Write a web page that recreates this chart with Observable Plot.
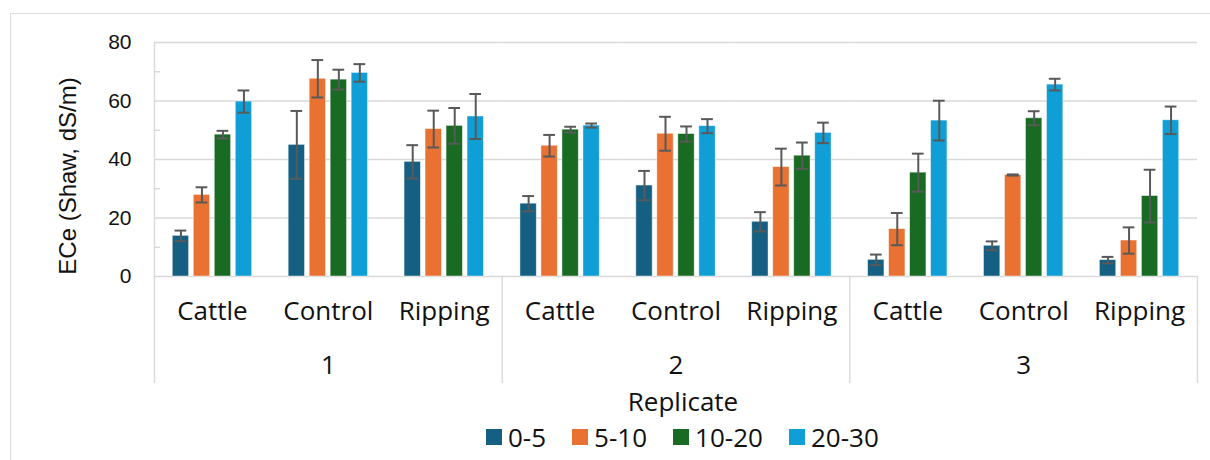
<!DOCTYPE html>
<html><head><meta charset="utf-8">
<script src="https://cdn.jsdelivr.net/npm/d3@7"></script>
<script src="https://cdn.jsdelivr.net/npm/@observablehq/plot@0.6"></script>
<style>
html,body{margin:0;padding:0;background:#fff;overflow:hidden;width:1210px;height:460px;}
#wrap{position:relative;width:1210px;height:460px;}
#border{position:absolute;left:10px;top:13px;width:1300px;height:600px;border-left:1.5px solid #dcdcdc;border-top:1.5px solid #dcdcdc;pointer-events:none;}
#chart{position:absolute;left:0;top:0;}
#xtitle{position:absolute;top:385px;left:683px;transform:translateX(-50%);font-family:"Open Sans",sans-serif;font-size:26px;line-height:32px;color:#111;white-space:nowrap;}
#legend{position:absolute;top:421px;left:486px;display:flex;gap:26px;font-family:"Open Sans",sans-serif;font-size:26px;line-height:32px;color:#111;white-space:nowrap;}
.item{display:flex;align-items:center;gap:6px;}
.sw{width:16px;height:16px;display:inline-block;}
</style></head>
<body><div id="wrap"><div id="chart"></div><div id="xtitle"></div><div id="legend"></div><div id="border"></div></div>
<script>
// ---- data ----
const replicates = ["1", "2", "3"];
const treatments = ["Cattle", "Control", "Ripping"];
const depths = ["0-5", "5-10", "10-20", "20-30"];
const depthColors = ["#156082", "#E97132", "#196B24", "#0F9ED5"];
const yTicks = [0, 20, 40, 60, 80];
const yMinorTicks = [10, 30, 50, 70];
const yTitle = "ECe (Shaw, dS/m)";
const xTitle = "Replicate";

// order: rep1 Cattle, Control, Ripping, rep2 ..., rep3 ...
const ece_0_5   = [13.9, 45.0, 39.2, 24.9, 31.1, 18.7, 5.7, 10.5, 5.6];
const ece_5_10  = [27.9, 67.6, 50.4, 44.7, 48.8, 37.4, 16.2, 34.7, 12.3];
const ece_10_20 = [48.5, 67.3, 51.5, 50.2, 48.7, 41.3, 35.5, 54.1, 27.5];
const ece_20_30 = [59.8, 69.6, 54.7, 51.6, 51.4, 49.1, 53.3, 65.6, 53.4];

const err_0_5   = [1.8, 11.6, 5.7, 2.6, 5.0, 3.3, 1.8, 1.5, 1.1];
const err_5_10  = [2.6, 6.4, 6.3, 3.7, 5.8, 6.3, 5.5, 0.2, 4.5];
const err_10_20 = [1.3, 3.4, 6.1, 1.0, 2.6, 4.5, 6.5, 2.4, 9.0];
const err_20_30 = [3.8, 3.0, 7.7, 0.7, 2.4, 3.5, 6.8, 2.0, 4.7];

// ---- table ----
const seriesValues = [ece_0_5, ece_5_10, ece_10_20, ece_20_30];
const seriesErrors = [err_0_5, err_5_10, err_10_20, err_20_30];
const groups = replicates.flatMap(r => treatments.map(t => ({rep: r, treatment: t, key: `${r}|${t}`})));
const rows = [];
depths.forEach((d, j) => groups.forEach((g, i) =>
  rows.push({...g, depth: d, value: seriesValues[j][i], err: seriesErrors[j][i]})));

// ---- layout / style ----
const W = 1210, H = 385, mT = 42, mB = 109, mL = 154, mR = 13;
const plotH = H - mT - mB;
const belowAxis = 106;
const gridColor = "#d9d9d9";
const ink = "#111";
const errColor = "#595959";
const catFont = "'Open Sans', sans-serif";
const numFont = "'Liberation Sans', Arial, sans-serif";

const sepMarks = [
  Plot.frame({fx: groups[0].key, anchor: "left", insetBottom: -belowAxis, stroke: gridColor, strokeWidth: 1.4}),
  ...replicates.slice(1).map(r => Plot.frame({fx: `${r}|${treatments[0]}`, anchor: "left", insetTop: plotH, insetBottom: -belowAxis, stroke: gridColor, strokeWidth: 1.4})),
  Plot.frame({fx: groups[groups.length - 1].key, anchor: "right", insetTop: plotH, insetBottom: -belowAxis, stroke: gridColor, strokeWidth: 1.4})
];

const chart = Plot.plot({
  width: W, height: H,
  marginTop: mT, marginBottom: mB, marginLeft: mL, marginRight: mR,
  style: {background: "transparent", fontFamily: numFont, color: ink, overflow: "visible"},
  fx: {domain: groups.map(g => g.key), padding: 0, round: false, axis: null},
  x: {domain: depths, paddingInner: 0.222, paddingOuter: 0.87, axis: null, round: false},
  y: {domain: [0, 80], axis: null},
  color: {domain: depths, range: depthColors},
  marks: [
    Plot.gridY(yTicks, {stroke: gridColor, strokeOpacity: 1, strokeWidth: 1.4}),
    ...sepMarks,
    Plot.axisY(yMinorTicks, {tickSize: -6, fill: "none", stroke: gridColor, strokeWidth: 1.4, label: null}),
    Plot.axisY(yTicks, {tickSize: 0, tickPadding: 23, fontSize: 21, fontFamily: numFont, fill: ink, label: null}),
    Plot.barY(rows, {fx: "key", x: "depth", y: "value", fill: "depth", stroke: "white", strokeOpacity: 0.55, strokeWidth: 0.8}),
    Plot.ruleX(rows, {fx: "key", x: "depth", y1: d => d.value - d.err, y2: d => d.value + d.err, stroke: errColor, strokeWidth: 2}),
    Plot.tickY(rows, {fx: "key", x: "depth", y: d => d.value - d.err, inset: 2.3, stroke: errColor, strokeWidth: 2}),
    Plot.tickY(rows, {fx: "key", x: "depth", y: d => d.value + d.err, inset: 2.3, stroke: errColor, strokeWidth: 2}),
    Plot.text(groups, {fx: "key", text: "treatment", frameAnchor: "bottom", dy: 35.5, lineAnchor: "middle", fontSize: 26, fontFamily: catFont, fill: ink}),
    Plot.text(replicates, {fx: r => `${r}|${treatments[1]}`, text: r => r, frameAnchor: "bottom", dy: 89.5, lineAnchor: "middle", fontSize: 26, fontFamily: catFont, fill: ink}),
    Plot.text([yTitle], {fx: () => groups[0].key, text: d => d, frameAnchor: "left", textAnchor: "middle", rotate: -90, dx: -86, dy: 16.5, lineAnchor: "middle", fontSize: 24, fontFamily: numFont, fill: ink})
  ]
});
document.getElementById("chart").appendChild(chart);

document.getElementById("xtitle").textContent = xTitle;
const legend = document.getElementById("legend");
depths.forEach((d, i) => {
  const item = document.createElement("div");
  item.className = "item";
  const sw = document.createElement("span");
  sw.className = "sw";
  sw.style.background = depthColors[i];
  const lab = document.createElement("span");
  lab.textContent = d;
  item.appendChild(sw);
  item.appendChild(lab);
  legend.appendChild(item);
});
</script>
</body></html>
